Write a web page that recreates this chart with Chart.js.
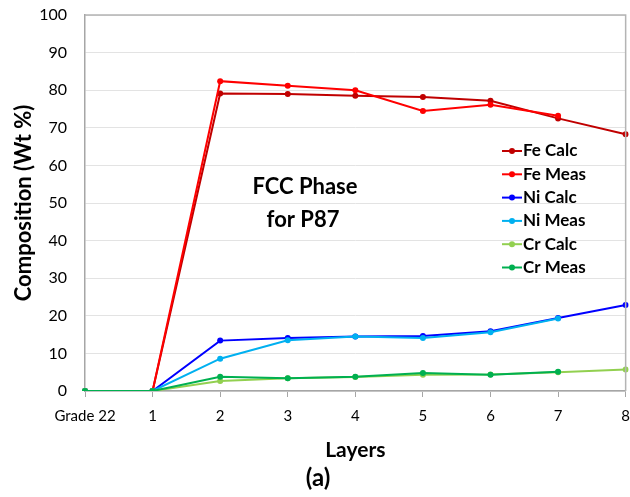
<!DOCTYPE html>
<html>
<head>
<meta charset="utf-8">
<script src="https://cdn.jsdelivr.net/npm/chart.js@4"></script>
<style>
  html, body { margin: 0; padding: 0; background: #fff; overflow: hidden; }
  #wrap { width: 640px; height: 497px; }
</style>
</head>
<body>
<div id="wrap"><canvas id="myLineChart"></canvas></div>
<script>
// du lieu doc tu hinh
var labels = ['Grade 22', '1', '2', '3', '4', '5', '6', '7', '8'];
var feCalc = [0, 0, 79.1, 79.0, 78.5, 78.2, 77.2, 72.5, 68.3];
var feMeas = [0, 0, 82.4, 81.2, 80.0, 74.5, 76.1, 73.2, null];
var niCalc = [0, 0, 13.4, 14.1, 14.5, 14.6, 15.9, 19.4, 22.9];
var niMeas = [0, 0, 8.6, 13.5, 14.5, 14.1, 15.6, 19.3, null];
var crCalc = [0, 0, 2.65, 3.4, 3.7, 4.3, 4.4, 5.0, 5.7];
var crMeas = [0, 0, 3.8, 3.4, 3.8, 4.8, 4.3, 5.1, null];

var FONT = 'Lato, "Open Sans", sans-serif';

function ds(label, data, color, order) {
    return {
        label: label,
        data: data,
        borderColor: color,
        backgroundColor: color,
        borderWidth: 2,
        pointRadius: 3,
        pointHoverRadius: 3,
        pointBorderWidth: 0,
        tension: 0,
        fill: false,
        order: order
    };
}

// ve chu "FCC Phase", chu giai va khung
var extras = {
    id: 'extras',
    afterDatasetsDraw: function (chart) {
        var ctx = chart.ctx;
        var a = chart.chartArea;
        ctx.save();
        ctx.strokeStyle = '#b4b4b4';
        ctx.lineWidth = 1.5;
        ctx.beginPath();
        ctx.moveTo(a.left, a.top);
        ctx.lineTo(a.right, a.top);
        ctx.lineTo(a.right, a.bottom);
        ctx.stroke();

        ctx.fillStyle = '#000';
        ctx.font = 'bold 22px ' + FONT;
        ctx.textAlign = 'center';
        ctx.textBaseline = 'middle';
        ctx.fillText('FCC Phase', 305, 187);
        ctx.fillText('for P87', 303, 220);

        ctx.font = 'bold 17px ' + FONT;
        ctx.textAlign = 'left';
        var y0 = 151, step = 23.3;
        chart.data.datasets.forEach(function (d, i) {
            var y = y0 + i * step;
            ctx.strokeStyle = d.borderColor;
            ctx.fillStyle = d.borderColor;
            ctx.lineWidth = 2;
            ctx.beginPath();
            ctx.moveTo(502, y);
            ctx.lineTo(522, y);
            ctx.stroke();
            ctx.beginPath();
            ctx.arc(512, y, 3, 0, Math.PI * 2);
            ctx.fill();
            ctx.fillStyle = '#000';
            ctx.fillText(d.label, 523, y);
        });
        ctx.restore();
    }
};

var ctx = document.getElementById('myLineChart').getContext('2d');
var myLineChart = new Chart(ctx, {
    type: 'line',
    data: {
        labels: labels,
        datasets: [
            ds('Fe Calc', feCalc, '#c00000', 6),
            ds('Fe Meas', feMeas, '#ff0000', 5),
            ds('Ni Calc', niCalc, '#0000ff', 4),
            ds('Ni Meas', niMeas, '#00b0f0', 3),
            ds('Cr Calc', crCalc, '#92d050', 2),
            ds('Cr Meas', crMeas, '#00b050', 1)
        ]
    },
    plugins: [extras],
    options: {
        responsive: true,
        maintainAspectRatio: false,
        animation: false,
        layout: { padding: { top: 15, right: 12, left: 8, bottom: 4 } },
        plugins: {
            legend: { display: false },
            tooltip: { enabled: false },
            title: {
                display: true,
                position: 'bottom',
                text: '(a)',
                color: '#000',
                font: { family: FONT, size: 24, weight: 'bold' },
                padding: { top: 0, bottom: 0 }
            }
        },
        scales: {
            x: {
                offset: false,
                grid: {
                    display: true,
                    drawOnChartArea: false,
                    drawTicks: true,
                    tickLength: 6,
                    color: '#a6a6a6'
                },
                border: { color: '#a6a6a6', width: 1.5 },
                ticks: {
                    color: '#000',
                    maxRotation: 0,
                    autoSkip: false,
                    padding: 10,
                    font: { family: FONT, size: 15 }
                },
                title: {
                    display: true,
                    text: 'Layers',
                    color: '#000',
                    font: { family: FONT, size: 21, weight: 'bold' },
                    padding: { top: 3, bottom: 1 }
                }
            },
            y: {
                min: 0,
                max: 100,
                afterFit: function (scale) {
                    scale.width = 77;
                    scale.paddingTop = 0;
                    scale.paddingBottom = 0;
                },
                ticks: {
                    stepSize: 10,
                    color: '#000',
                    padding: 18,
                    font: { family: FONT, size: 16 }
                },
                grid: {
                    color: '#e3e3e3',
                    lineWidth: 1,
                    drawTicks: false
                },
                border: { color: '#a6a6a6', width: 1.5 },
                title: {
                    display: true,
                    text: 'Composition (Wt %)',
                    color: '#000',
                    font: { family: FONT, size: 22, weight: 'bold' },
                    padding: { top: 3, bottom: 2 }
                }
            }
        }
    }
});
</script>
</body>
</html>
